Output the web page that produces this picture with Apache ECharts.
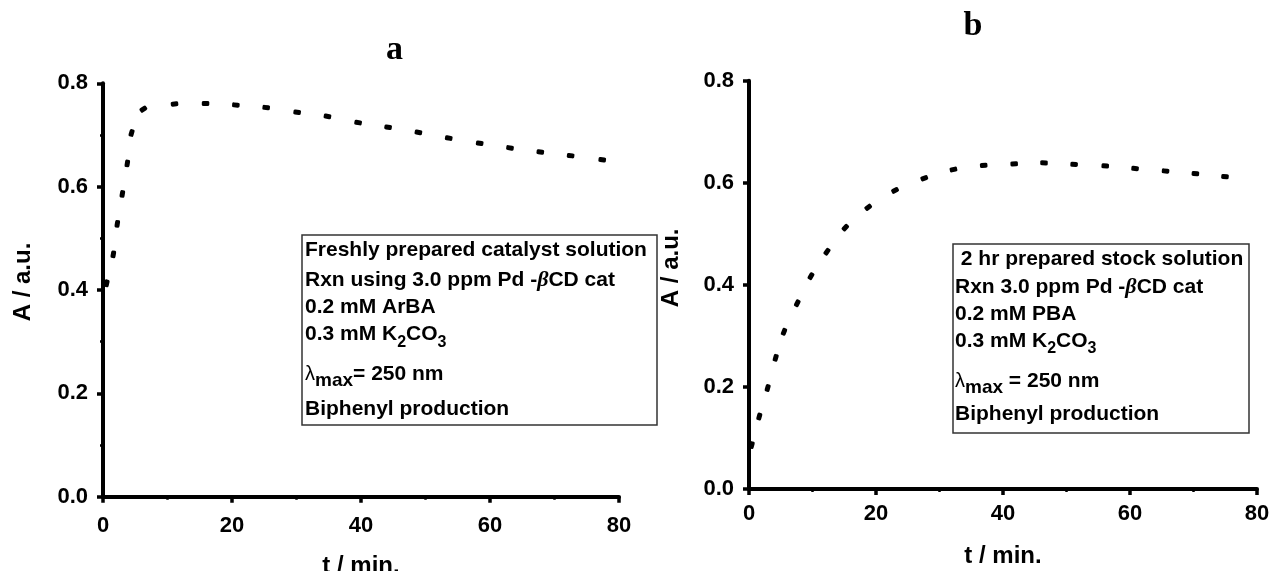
<!DOCTYPE html>
<html><head><meta charset="utf-8">
<script src="https://cdn.jsdelivr.net/npm/echarts@6/dist/echarts.min.js"></script>
<style>html,body{margin:0;padding:0;background:#fff;}#c{width:1269px;height:571px;}</style>
</head><body><div id="c"></div>
<script>
// ---- data ----
const tA   = [0.57,1.60,2.22,3.0,3.77,4.43,6.26,11.09,15.9,20.6,25.3,30.1,34.8,39.55,44.2,48.9,53.6,58.4,63.1,67.8,72.5,77.4];
const absA = [0.413,0.469,0.528,0.586,0.645,0.704,0.750,0.760,0.761,0.758,0.753,0.744,0.736,0.724,0.715,0.705,0.694,0.684,0.675,0.667,0.660,0.652];
const tB   = [0.43,1.62,2.94,4.2,5.51,7.6,9.76,12.28,15.17,18.77,23.0,27.6,32.2,36.96,41.76,46.46,51.2,56.1,60.8,65.6,70.3,74.96];
const absB = [0.086,0.142,0.198,0.257,0.308,0.364,0.417,0.465,0.512,0.552,0.585,0.609,0.626,0.634,0.637,0.639,0.636,0.633,0.628,0.623,0.618,0.612];
const xTickLabels = ['0','20','40','60','80'];
const yTickLabels = ['0.0','0.2','0.4','0.6','0.8'];
const panelTitles = ['a','b'];
const xName = 't / min.';
const yName = 'A / a.u.';
const notesA = ['Freshly prepared catalyst solution','Rxn using 3.0 ppm Pd -{beta|β}CD cat','0.2 mM ArBA','0.3 mM K{sub|2}CO{sub|3}','{lam|λ}{max|max}= 250 nm','Biphenyl production'];
const notesB = [' 2 hr prepared stock solution','Rxn 3.0 ppm Pd -{beta|β}CD cat','0.2 mM PBA','0.3 mM K{sub|2}CO{sub|3}','{lam|λ}{max|max} = 250 nm','Biphenyl production'];

const SANS = 'Liberation Sans, Arial, sans-serif';
const SERIF = 'Liberation Serif, Times New Roman, serif';

function xAxisCfg(gi, margin, gap){
  return {type:'value', gridIndex:gi, min:0, max:80, interval:20,
    name:xName, nameLocation:'middle', nameGap:gap,
    nameTextStyle:{fontFamily:SANS, fontWeight:'bold', fontSize:24, color:'#000'},
    axisLine:{show:true, onZero:false, lineStyle:{color:'#000', width:4}},
    axisTick:{show:true, inside:false, length:6, lineStyle:{color:'#000', width:3.5}},
    minorTick:{show:true, splitNumber:2, length:3, lineStyle:{color:'#000', width:2.5}},
    splitLine:{show:false}, minorSplitLine:{show:false},
    axisLabel:{margin:margin, fontFamily:SANS, fontWeight:'bold', fontSize:22, color:'#000',
      formatter:v => xTickLabels[Math.round(v/20)] || ''}
  };
}
function yAxisCfg(gi, gap, pad, minor){
  return {type:'value', gridIndex:gi, min:0, max:0.8, interval:0.2,
    name:yName, nameLocation:'middle', nameGap:gap,
    nameTextStyle:{fontFamily:SANS, fontWeight:'bold', fontSize:24, color:'#000', padding:[0,0,0,pad]},
    axisLine:{show:true, onZero:false, lineStyle:{color:'#000', width:4}},
    axisTick:{show:true, inside:false, length:6, lineStyle:{color:'#000', width:3.5}},
    minorTick:{show:minor, splitNumber:2, length:3, lineStyle:{color:'#000', width:2.5}},
    splitLine:{show:false}, minorSplitLine:{show:false},
    axisLabel:{margin:15, fontFamily:SANS, fontWeight:'bold', fontSize:22, color:'#000',
      formatter:v => yTickLabels[Math.round(v/0.2)] || ''}
  };
}
const rich = {
  beta:{fontFamily:SERIF, fontStyle:'italic', fontWeight:'bold', fontSize:22, fill:'#000', color:'#000'},
  sub:{fontFamily:SANS, fontWeight:'bold', fontSize:16, verticalAlign:'bottom', fill:'#000', color:'#000'},
  lam:{fontFamily:SANS, fontWeight:'normal', fontSize:20, fill:'#000', color:'#000'},
  max:{fontFamily:SANS, fontWeight:'bold', fontSize:19, verticalAlign:'bottom', fill:'#000', color:'#000'}
};
function noteLines(lines, x, ys, xFirst){
  return lines.map((s,i)=>({type:'text', x:(i===0 && xFirst!=null)?xFirst:x, y:ys[i], z:10,
    style:{text:s, rich:rich, fontFamily:SANS, fontWeight:'bold', fontSize:21, lineHeight:32,
      fill:'#000', align:'left', verticalAlign:'middle'}}));
}
const graphics = [
  {type:'text', x:394.5, y:50.5, style:{text:panelTitles[0], fontFamily:SERIF, fontWeight:'bold', fontSize:34, fill:'#000', align:'center', verticalAlign:'middle'}},
  {type:'text', x:973, y:26.5, style:{text:panelTitles[1], fontFamily:SERIF, fontWeight:'bold', fontSize:34, fill:'#000', align:'center', verticalAlign:'middle'}},
  {type:'rect', z:5, shape:{x:302, y:235, width:355, height:190}, style:{fill:'#fff', stroke:'#333', lineWidth:1.5}},
  {type:'rect', z:5, shape:{x:953, y:244, width:296, height:189}, style:{fill:'#fff', stroke:'#333', lineWidth:1.5}}
].concat(
  noteLines(notesA, 305, [250.6,280.6,307.6,334.6,374.6,409.6]),
  noteLines(notesB, 955, [259.3,287.6,314.3,341,381,414.3], 955)
);

const chart = echarts.init(document.getElementById('c'), null, {renderer:'canvas'});
function seriesCfg(si, ts, vs, rots){
  return {type:'scatter', xAxisIndex:si, yAxisIndex:si, symbol:'roundRect', symbolSize:[7.5,5],
    itemStyle:{color:'#000', opacity:1}, emphasis:{disabled:true}, silent:true,
    data: ts.map((t,i)=>({value:[t, vs[i]], symbolRotate: rots ? rots[i] : 0}))};
}
const option = {
  animation:false, backgroundColor:'#fff',
  grid:[
    {left:103, top:83.3, width:516, height:413.4, outerBoundsMode:'none', containLabel:false},
    {left:749, top:80.7, width:508, height:408.3, outerBoundsMode:'none', containLabel:false}
  ],
  xAxis:[xAxisCfg(0, 18, 58), xAxisCfg(1, 14, 55)],
  yAxis:[yAxisCfg(0, 68, 16, true), yAxisCfg(1, 66, 34, false)],
  series:[seriesCfg(0, tA, absA), seriesCfg(1, tB, absB)],
  graphic:graphics
};
chart.setOption(option);
function rotations(si, ts, vs){
  const px = ts.map((t,i)=>chart.convertToPixel({seriesIndex:si}, [t, vs[i]]));
  return px.map((p,i)=>{
    const a = px[Math.max(0,i-1)], b = px[Math.min(px.length-1,i+1)];
    return Math.atan2(-(b[1]-a[1]), b[0]-a[0]) * 180 / Math.PI;
  });
}
chart.setOption({series:[seriesCfg(0, tA, absA, rotations(0, tA, absA)), seriesCfg(1, tB, absB, rotations(1, tB, absB))]});
</script>
</body></html>
